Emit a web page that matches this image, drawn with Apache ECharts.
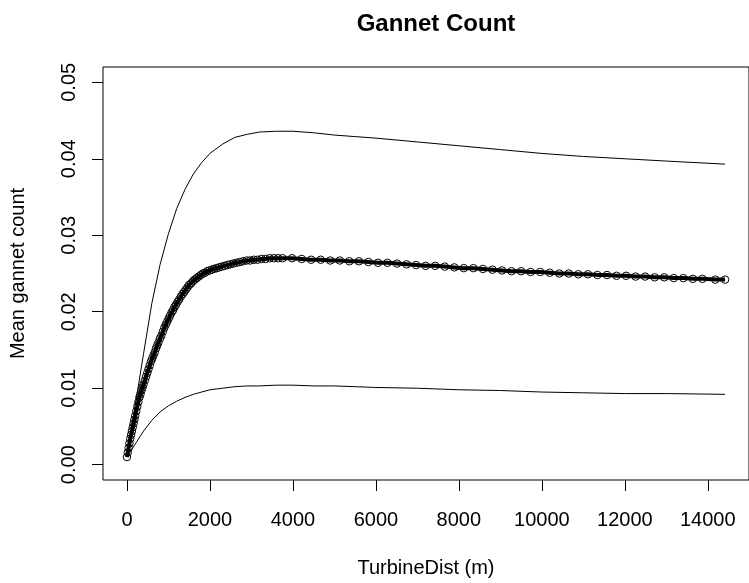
<!DOCTYPE html>
<html>
<head>
<meta charset="utf-8">
<title>Gannet Count</title>
<script src="https://cdn.jsdelivr.net/npm/echarts@6/dist/echarts.min.js"></script>
<style>
  html, body { margin: 0; padding: 0; background: #fff; }
  #chart { width: 749px; height: 583px; }
</style>
</head>
<body>
<div id="chart"></div>
<script>
// Fitted mean gannet count along turbine distance (m)
const meanDist = [
  0, 20, 40, 60, 80, 100, 120, 140, 160, 180, 200, 225, 250, 275, 300, 325, 350,
  375, 400, 430, 460, 490, 520, 550, 580, 610, 640, 670, 700, 730, 760, 795,
  830, 865, 900, 935, 970, 1005, 1040, 1075, 1110, 1145, 1180, 1220, 1260, 1300,
  1340, 1380, 1420, 1460, 1500, 1545, 1590, 1635, 1680, 1730, 1780, 1830, 1880,
  1935, 1990, 2045, 2100, 2160, 2220, 2285, 2350, 2420, 2490, 2565, 2640, 2720,
  2800, 2885, 2970, 3060, 3150, 3245, 3340, 3440, 3540, 3645, 3750,
  3980, 4210, 4440, 4670, 4900, 5130, 5360, 5590, 5820, 6050, 6280, 6510, 6740,
  6970, 7200, 7430, 7660, 7890, 8120, 8350, 8580, 8810, 9040, 9270, 9500, 9730,
  9960, 10190, 10420, 10650, 10880, 11110, 11340, 11570, 11800, 12030, 12260,
  12490, 12720, 12950, 13180, 13410, 13640, 13870, 14180, 14416
];
const meanCount = [
  0.0010, 0.0016, 0.0022, 0.0028, 0.0034, 0.0039, 0.0044, 0.0049, 0.0054, 0.0059,
  0.0064, 0.0070, 0.0076, 0.0082, 0.0088, 0.0092, 0.0097, 0.0101, 0.0105, 0.0110,
  0.0115, 0.0120, 0.0125, 0.0130, 0.0135, 0.0139, 0.0143, 0.0147, 0.0152, 0.0156,
  0.0160, 0.0165, 0.0169, 0.0174, 0.0179, 0.0183, 0.0187, 0.0191, 0.0195, 0.0199,
  0.0202, 0.0206, 0.0209, 0.0213, 0.0216, 0.0220, 0.0223, 0.0226, 0.0229, 0.0232,
  0.0235, 0.0237, 0.0240, 0.0242, 0.0244, 0.0246, 0.0248, 0.0250, 0.0251, 0.0253,
  0.0254, 0.0255, 0.0256, 0.0257, 0.0258, 0.0259, 0.0260, 0.0261, 0.0262, 0.0263,
  0.0264, 0.0265, 0.0266, 0.0267, 0.0267, 0.0268, 0.0268, 0.0269, 0.0269, 0.0270,
  0.0270, 0.0270, 0.0270,
  0.0270, 0.0269, 0.0268, 0.0268, 0.0267, 0.0267, 0.0266, 0.0266, 0.0265, 0.0264,
  0.0264, 0.0263, 0.0262, 0.0261, 0.0260, 0.0260, 0.0259, 0.0258, 0.0257, 0.0257,
  0.0256, 0.0255, 0.0254, 0.0253, 0.0253, 0.0252, 0.0252, 0.0251, 0.0250, 0.0250,
  0.0249, 0.0249, 0.0248, 0.0248, 0.0247, 0.0247, 0.0246, 0.0246, 0.0245, 0.0245,
  0.0244, 0.0244, 0.0243, 0.0243, 0.0242, 0.0242
];

// Confidence band limits
const ciDist = [
  0, 200, 400, 600, 800, 1000, 1200, 1400, 1600, 1800, 2000, 2300, 2600, 2900,
  3200, 3600, 4000, 4500, 5000, 5500, 6000, 7000, 8000, 9000, 10000, 11000,
  12000, 13000, 14416
];
const upperCI = [
  0.0011, 0.0078, 0.0145, 0.0211, 0.0262, 0.0302, 0.0335, 0.0360, 0.0380, 0.0395,
  0.0407, 0.0419, 0.0428, 0.0432, 0.0435, 0.0436, 0.0436, 0.0434, 0.0431, 0.0429,
  0.0427, 0.0422, 0.0417, 0.0412, 0.0407, 0.0403, 0.0400, 0.0397, 0.0393
];
const lowerCI = [
  0.0010, 0.0027, 0.0044, 0.0058, 0.0069, 0.0077, 0.0083, 0.0088, 0.0092, 0.0095,
  0.0098, 0.0100, 0.0102, 0.0103, 0.0103, 0.0104, 0.0104, 0.0103, 0.0103, 0.0102,
  0.0101, 0.0100, 0.0098, 0.0097, 0.0095, 0.0094, 0.0093, 0.0093, 0.0092
];

// Tick positions
const xTicks = [0, 2000, 4000, 6000, 8000, 10000, 12000, 14000];
const yTicks = [0, 0.01, 0.02, 0.03, 0.04, 0.05];

const FONT = "'Liberation Sans', Arial, sans-serif";

const zip = (xs, ys) => xs.map((x, i) => [x, ys[i]]);

const chart = echarts.init(document.getElementById('chart'), null, { renderer: 'canvas' });

chart.setOption({
  animation: false,
  backgroundColor: '#ffffff',
  title: {
    text: 'Gannet Count',
    left: 431,
    top: 7,
    textAlign: 'center',
    textStyle: { fontFamily: FONT, fontSize: 24, fontWeight: 'bold', color: '#000' }
  },
  grid: {
    left: 103, top: 67, right: -10, bottom: 100,
    show: true, borderColor: '#000', borderWidth: 1, backgroundColor: 'transparent'
  },
  xAxis: {
    type: 'value',
    min: -577,
    max: 14993,
    name: 'TurbineDist (m)',
    nameLocation: 'middle',
    nameGap: 78,
    nameTextStyle: { fontFamily: FONT, fontSize: 20, color: '#000' },
    splitLine: { show: false },
    axisLine: { show: false, onZero: false },
    axisTick: {
      show: true, length: 11, inside: false,
      customValues: xTicks,
      lineStyle: { color: '#000', width: 1 }
    },
    axisLabel: {
      show: true, margin: 30,
      customValues: xTicks,
      fontFamily: FONT, fontSize: 20, color: '#000',
      formatter: v => String(v)
    }
  },
  yAxis: {
    type: 'value',
    min: -0.002,
    max: 0.052,
    name: 'Mean gannet count',
    nameLocation: 'middle',
    nameRotate: 90,
    nameGap: 75,
    nameTextStyle: { fontFamily: FONT, fontSize: 20, color: '#000' },
    splitLine: { show: false },
    axisLine: { show: false, onZero: false },
    axisTick: {
      show: true, length: 11, inside: false,
      customValues: yTicks,
      lineStyle: { color: '#000', width: 1 }
    },
    axisLabel: {
      show: true, margin: 24, rotate: 90,
      customValues: yTicks,
      fontFamily: FONT, fontSize: 20, color: '#000',
      formatter: v => v.toFixed(2)
    }
  },
  series: [
    {
      name: 'Upper',
      type: 'line',
      data: zip(ciDist, upperCI),
      symbol: 'none',
      lineStyle: { color: '#000', width: 1 },
      silent: true
    },
    {
      name: 'Lower',
      type: 'line',
      data: zip(ciDist, lowerCI),
      symbol: 'none',
      lineStyle: { color: '#000', width: 1 },
      silent: true
    },
    {
      name: 'Mean',
      type: 'line',
      data: zip(meanDist, meanCount),
      showAllSymbol: true,
      symbol: 'circle',
      symbolSize: 7.5,
      itemStyle: { color: 'rgba(0,0,0,0)', borderColor: '#000', borderWidth: 1 },
      lineStyle: { color: '#000', width: 4 },
      silent: true
    }
  ]
});
</script>
</body>
</html>
